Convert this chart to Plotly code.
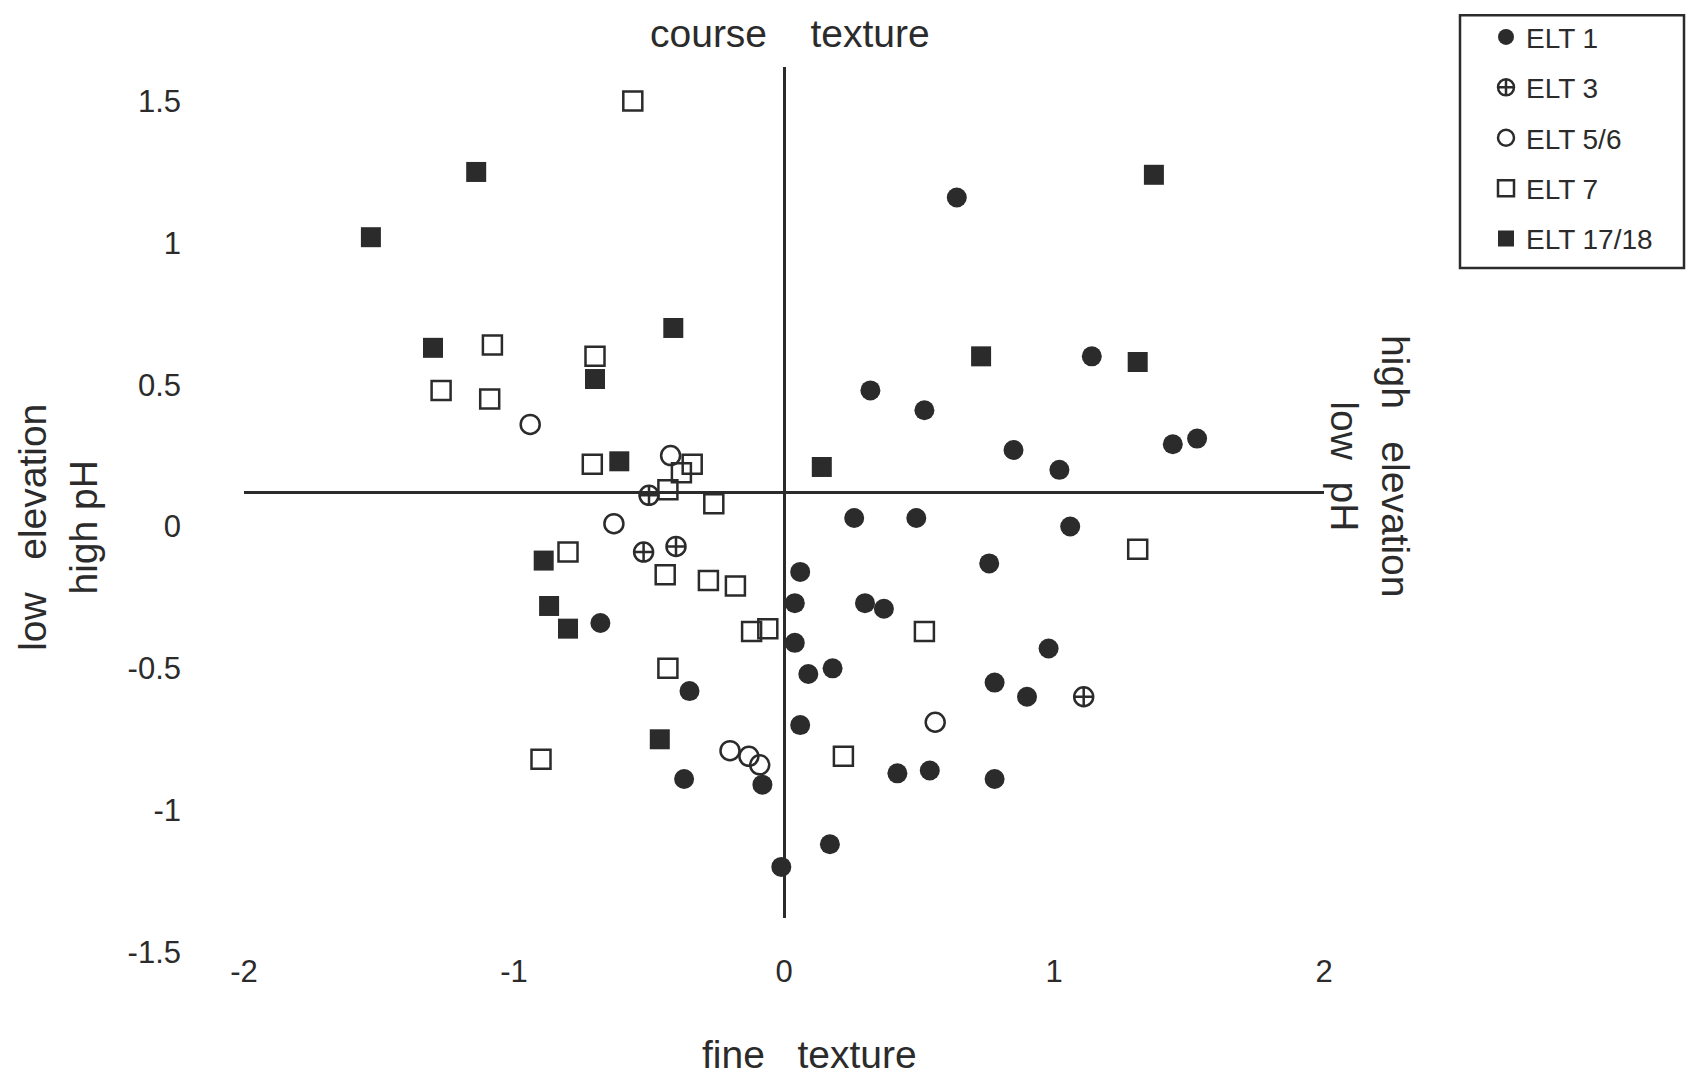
import plotly.graph_objects as go

# Ordination scores (axis 1 = texture, axis 2 = elevation / pH) by ELT group
elt1_x = [0.64, 0.32, 0.52, 1.14, 1.44, 1.53, 0.85, 1.02, 0.26, 0.49, 1.06, 0.76,
          0.06, 0.04, 0.30, 0.37, -0.68, 0.04, 0.98, -0.35, 0.09, 0.18, 0.78, 0.90,
          0.06, -0.37, -0.08, 0.42, 0.54, 0.78, 0.17, -0.01]
elt1_y = [1.04, 0.36, 0.29, 0.48, 0.17, 0.19, 0.15, 0.08, -0.09, -0.09, -0.12, -0.25,
          -0.28, -0.39, -0.39, -0.41, -0.46, -0.53, -0.55, -0.70, -0.64, -0.62, -0.67, -0.72,
          -0.82, -1.01, -1.03, -0.99, -0.98, -1.01, -1.24, -1.32]

elt3_x = [-0.50, -0.40, -0.52, 1.11]
elt3_y = [-0.01, -0.19, -0.21, -0.72]

elt56_x = [-0.94, -0.42, -0.63, 0.56, -0.20, -0.13, -0.09]
elt56_y = [0.24, 0.13, -0.11, -0.81, -0.91, -0.93, -0.96]

elt7_x = [-0.56, -1.08, -0.70, -1.27, -1.09, -0.71, -0.34, -0.38, -0.43, -0.26, 1.31,
          -0.80, -0.44, -0.28, -0.18, 0.52, -0.12, -0.06, -0.43, 0.22, -0.90]
elt7_y = [1.38, 0.52, 0.48, 0.36, 0.33, 0.10, 0.10, 0.07, 0.01, -0.04, -0.20,
          -0.21, -0.29, -0.31, -0.33, -0.49, -0.49, -0.48, -0.62, -0.93, -0.94]

elt1718_x = [-1.14, -1.53, 1.37, -0.41, -1.30, -0.70, 0.73, 1.31, -0.61, 0.14,
             -0.89, -0.87, -0.80, -0.46]
elt1718_y = [1.13, 0.90, 1.12, 0.58, 0.51, 0.40, 0.48, 0.46, 0.11, 0.09,
             -0.24, -0.40, -0.48, -0.87]

x_ticks = [-2, -1, 0, 1, 2]
x_tick_text = ["-2", "-1", "0", "1", "2"]
y_ticks = [-1.5, -1, -0.5, 0, 0.5, 1, 1.5]
y_tick_text = ["-1.5", "-1", "-0.5", "0", "0.5", "1", "1.5"]

INK = "#2b2b2b"
FONT = "Liberation Sans, Arial, sans-serif"

series = [
    ("ELT 1", elt1_x, elt1_y, "circle", 20),
    ("ELT 3", elt3_x, elt3_y, "circle-cross-open", 19),
    ("ELT 5/6", elt56_x, elt56_y, "circle-open", 19),
    ("ELT 7", elt7_x, elt7_y, "square-open", 19),
    ("ELT 17/18", elt1718_x, elt1718_y, "square", 20),
]

fig = go.Figure()
for name, xs, ys, sym, size in series:
    is_open = sym.endswith("open")
    fig.add_trace(go.Scatter(
        x=xs, y=ys, mode="markers", name=name, legendgroup=name,
        marker=dict(symbol=sym, size=size, color=INK,
                    line=dict(color=INK, width=2.5 if is_open else 0)),
    ))

W, H = 1686, 1079
L, R, T, B = 244, 362, 63, 161
PW, PH = W - L - R, H - T - B


def px(x):
    return (x - L) / PW


def py(y):
    return (H - B - y) / PH


nb = "\u00a0"
label_font = dict(family=FONT, size=39, color=INK)
annotations = [
    dict(text=f"course{nb*4}texture", x=px(790), y=py(29)),
    dict(text=f"fine{nb*3}texture", x=px(809), y=py(1055)),
    dict(text=f"low{nb*3}elevation<br>high pH", x=px(58), y=py(526), textangle=-90),
    dict(text=f"high{nb*3}elevation<br>low{nb*2}pH", x=px(1370), y=py(464), textangle=90),
]
for a in annotations:
    a.update(xref="paper", yref="paper", showarrow=False, font=label_font,
             xanchor="center", yanchor="middle")

# frame around the key
legend_box = dict(type="rect", xref="paper", yref="paper",
                  x0=px(1460), x1=px(1684), y0=py(265), y1=py(11),
                  line=dict(color=INK, width=2.5), fillcolor="white", layer="below")

fig.update_layout(
    width=W, height=H,
    margin=dict(l=L, r=R, t=T, b=B),
    paper_bgcolor="white", plot_bgcolor="white",
    font=dict(family=FONT, color=INK),
    annotations=annotations,
    shapes=[legend_box],
    showlegend=True,
    legend=dict(
        x=px(1486), y=py(8), xanchor="left", yanchor="top",
        borderwidth=0, bgcolor="rgba(0,0,0,0)",
        font=dict(family=FONT, size=28, color=INK),
        tracegroupgap=11,
    ),
)

fig.update_xaxes(
    range=[-2, 2], showgrid=False, showline=False, ticks="",
    zeroline=True, zerolinecolor=INK, zerolinewidth=3,
    tickvals=x_ticks, ticktext=x_tick_text, ticklabelstandoff=32,
    tickfont=dict(family=FONT, size=31, color=INK),
)
fig.update_yaxes(
    range=[-1.5, 1.5], showgrid=False, showline=False, ticks="",
    zeroline=True, zerolinecolor=INK, zerolinewidth=3,
    tickvals=y_ticks, ticktext=y_tick_text, ticklabelstandoff=62,
    ticklabelshift=34,
    tickfont=dict(family=FONT, size=31, color=INK),
)

fig.write_html("out.html")
